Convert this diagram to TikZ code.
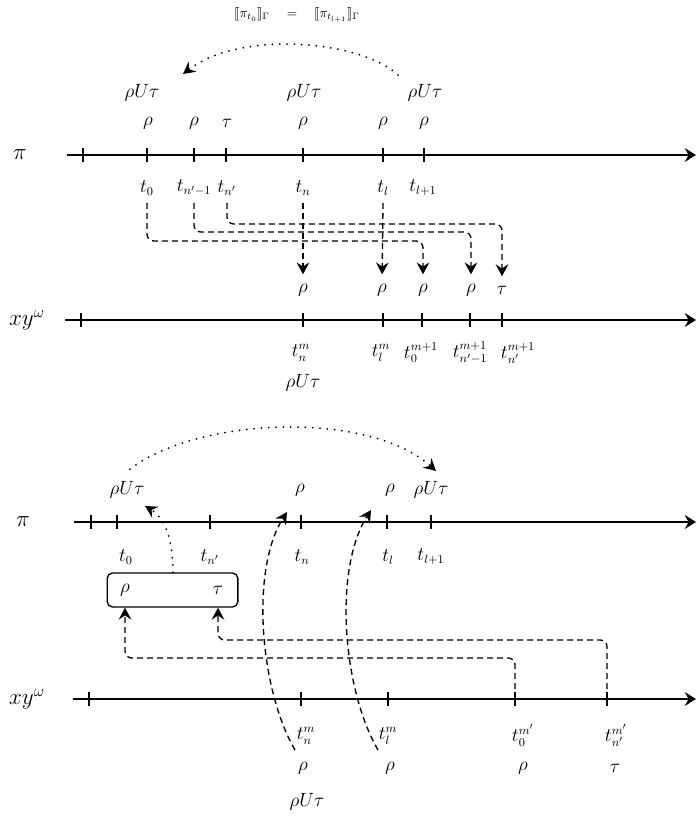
\documentclass[tikz,border=0pt]{standalone}
\usepackage{amsmath}
\usepackage{stmaryrd}
\usetikzlibrary{arrows.meta}
\tikzset{
  axis/.style={line width=1pt, -{Stealth[length=8.5pt,width=10.5pt,inset=3pt]}},
  tickmark/.style={line width=1pt},
  lab/.style={inner sep=0pt, font=\fontsize{13.5}{16}\selectfont},
  biglab/.style={inner sep=0pt, font=\LARGE},
  dashconn/.style={line width=1pt, dash pattern=on 4.5pt off 3pt, rounded corners=5pt,
    -{Stealth[length=9pt,width=9.5pt,inset=3.2pt]}},
  dotconn/.style={line width=1.5pt, dash pattern=on 0pt off 5.5pt, line cap=round,
    -{Stealth[length=9pt,width=9.5pt,inset=3.2pt]}},
  bracket/.style={draw, line width=1pt, rounded corners=4pt, minimum width=98pt,
    minimum height=25.5pt, inner sep=0pt},
}
\begin{document}
\begin{tikzpicture}[x=0.75pt, y=-0.75pt]
\useasboundingbox (0,0) rectangle (696,816);

% ---------- equality of the two suffixes ----------
\node[inner sep=0pt] (eq) at (297,15)
  {$\llbracket\pi_{t_0}\rrbracket_\Gamma\quad=\quad\llbracket\pi_{t_{l+1}}\rrbracket_\Gamma$};

% ---------- upper run pi ----------
\coordinate (ps) at (67,155);
\coordinate (pe) at (696,155);
\draw[axis] (ps) -- (pe);
\node[biglab] (pilab) at (20,155) {$\pi$};
\foreach \n/\x in {a0/83,a1/147,a2/194,a3/226,a4/303,a5/383,a6/424}{
  \coordinate (\n) at (\x,155);
  \draw[tickmark] (\n) ++(0,-7) -- ++(0,14);
}
% states above the positions
\node[lab] (ar1) at (148,123) {$\rho$};
\node[lab] (ar2) at (194,123) {$\rho$};
\node[lab] (ar3) at (227,123) {$\tau$};
\node[lab] (ar4) at (303,123) {$\rho$};
\node[lab] (ar5) at (383,123) {$\rho$};
\node[lab] (ar6) at (424,123) {$\rho$};
\node[lab] (au1) at (142,93) {$\rho U\tau$};
\node[lab] (au4) at (304,93) {$\rho U\tau$};
\node[lab] (au6) at (425,93) {$\rho U\tau$};
% positions below
\node[lab] (at1) at (147,188) {$t_0$};
\node[lab] (at2) at (194,188) {$t_{n'-1}$};
\node[lab] (at3) at (227,188) {$t_{n'}$};
\node[lab] (at4) at (303,188) {$t_n$};
\node[lab] (at5) at (383,188) {$t_l$};
\node[lab] (at6) at (423,188) {$t_{l+1}$};

% ---------- upper lasso word ----------
\coordinate (xs) at (65,320);
\coordinate (xe) at (696,320);
\draw[axis] (xs) -- (xe);
\node[biglab] (xylab) at (27,320) {$xy^\omega$};
\foreach \n/\x in {b0/81,b1/303,b2/383,b3/422,b4/470,b5/502}{
  \coordinate (\n) at (\x,320);
  \draw[tickmark] (\n) ++(0,-7) -- ++(0,14);
}
\node[lab] (br1) at (303,290) {$\rho$};
\node[lab] (br2) at (382,290) {$\rho$};
\node[lab] (br3) at (423,290) {$\rho$};
\node[lab] (br4) at (471,290) {$\rho$};
\node[lab] (br5) at (502,290) {$\tau$};
\node[lab] (bt1) at (301,353) {$t^m_n$};
\node[lab] (bt2) at (381,353) {$t^m_l$};
\node[lab] (bt3) at (421,353) {$t^{m+1}_0$};
\node[lab] (bt4) at (470,353) {$t^{m+1}_{n'-1}$};
\node[lab] (bt5) at (518,353) {$t^{m+1}_{n'}$};
\node[lab] (bu1) at (303,383) {$\rho U\tau$};

% ---------- upper connectors ----------
\coordinate (row) at (0,203);
\draw[dotconn] (398,75) coordinate (dotstart)
  .. controls (360,40) and (240,30) .. (183,74) coordinate (dotend);
\draw[dashconn, shorten >=7pt] (at4 |- row) -- (br1.north);
\draw[dashconn, shorten >=7pt] (at5 |- row) -- (br2.north);
\draw[dashconn, shorten >=7pt] (at1 |- row) -- ++(0,38) -| (br3.north);
\draw[dashconn, shorten >=7pt] (at2 |- row) -- ++(0,29) -| (br4.north);
\draw[dashconn, shorten >=7pt] (at3 |- row) -- ++(0,21) -| (br5.north);

% ---------- lower run pi ----------
\coordinate (qs) at (74,522);
\coordinate (qe) at (696,522);
\draw[axis] (qs) -- (qe);
\node[biglab] (pilab2) at (23,522) {$\pi$};
\foreach \n/\x in {c0/91,c1/117,c2/210,c3/301,c4/387,c5/431}{
  \coordinate (\n) at (\x,522);
  \draw[tickmark] (\n) ++(0,-7) -- ++(0,14);
}
\node[lab] (cu1) at (127,490) {$\rho U\tau$};
\node[lab] (cr3) at (300,490) {$\rho$};
\node[lab] (cr4) at (390,490) {$\rho$};
\node[lab] (cu5) at (431,490) {$\rho U\tau$};
\node[lab] (ct1) at (126,557) {$t_0$};
\node[lab] (ct2) at (210,557) {$t_{n'}$};
\node[lab] (ct3) at (302,557) {$t_n$};
\node[lab] (ct4) at (388,557) {$t_l$};
\node[lab] (ct5) at (431,557) {$t_{l+1}$};

% grouped states of the loop
\node[bracket] (box) at (172.5,590) {};
\node[lab] (brho) at (125,590) {$\rho$};
\node[lab] (btau) at (218,590) {$\tau$};

% ---------- lower lasso word ----------
\coordinate (ys) at (73,699);
\coordinate (ye) at (696,699);
\draw[axis] (ys) -- (ye);
\node[biglab] (xylab2) at (27,699) {$xy^\omega$};
\foreach \n/\x in {d0/89,d1/301,d2/388,d3/515,d4/607}{
  \coordinate (\n) at (\x,699);
  \draw[tickmark] (\n) ++(0,-7) -- ++(0,14);
}
\node[lab] (dt1) at (306,736) {$t^m_n$};
\node[lab] (dt2) at (388,736) {$t^m_l$};
\node[lab] (dt3) at (523,735) {$t^{m'}_0$};
\node[lab] (dt4) at (616,735) {$t^{m'}_{n'}$};
\node[lab] (dr1) at (303,768) {$\rho$};
\node[lab] (dr2) at (390,768) {$\rho$};
\node[lab] (dr3) at (523,768) {$\rho$};
\node[lab] (dr4) at (615,768) {$\tau$};
\node[lab] (du1) at (307,802) {$\rho U\tau$};

% ---------- lower connectors ----------
\draw[dotconn] (130,469) coordinate (arcstart)
  .. controls (200,416) and (370,411) .. (436,471) coordinate (arcend);
\coordinate (loopin) at (145,506);
\draw[dotconn] (box.north -| 173,0) .. controls (173,540) and (165,518) .. (loopin);
\coordinate (w1) at (295,750);
\coordinate (v1) at (287,512);
\draw[dashconn] (w1) .. controls (260,690) and (250,570) .. (v1);
\coordinate (w2) at (378,750);
\coordinate (v2) at (371,510);
\draw[dashconn] (w2) .. controls (343,690) and (333,570) .. (v2);
\draw[dashconn] (d3) -- ++(0,-41) -| (brho |- box.south);
\draw[dashconn] (d4) -- ++(0,-59) -| (btau |- box.south);
\end{tikzpicture}
\end{document}
